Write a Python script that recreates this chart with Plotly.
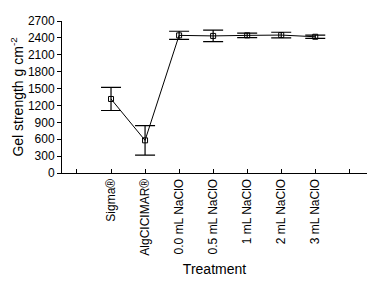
import plotly.graph_objects as go

treatments = ["Sigma®", "AlgCICIMAR®", "0.0 mL NaClO", "0.5 mL NaClO",
              "1 mL NaClO", "2 mL NaClO", "3 mL NaClO"]
gel_strength = [1315, 580, 2445, 2435, 2445, 2450, 2420]
gel_error = [205, 262, 73, 102, 40, 50, 28]
y_ticks = [0, 300, 600, 900, 1200, 1500, 1800, 2100, 2400, 2700]

positions = list(range(1, len(treatments) + 1))
edge_ticks = [0, len(treatments) + 1]

fig = go.Figure()
fig.add_trace(go.Scatter(
    x=positions, y=gel_strength,
    mode="lines+markers",
    line=dict(color="black", width=1),
    marker=dict(symbol="square-open", size=5, color="black", line=dict(width=1)),
    error_y=dict(type="data", array=gel_error, visible=True,
                 color="black", thickness=1.2, width=10),
    showlegend=False,
))

fig.update_layout(
    width=376, height=284,
    margin=dict(l=52, r=17, t=6, b=119),
    paper_bgcolor="white", plot_bgcolor="white",
    font=dict(family="Liberation Sans, Arial, sans-serif", size=12, color="black"),
    xaxis=dict(
        range=[-0.44, 8.52],
        tickmode="array", tickvals=positions, ticktext=treatments,
        tickangle=-90, ticks="inside", ticklen=4, tickcolor="black",
        minor=dict(tickmode="array", tickvals=edge_ticks, ticks="inside",
                   ticklen=4, tickcolor="black", showgrid=False),
        showline=True, linecolor="black", linewidth=1,
        showgrid=False, zeroline=False,
        title=dict(text="Treatment", font=dict(size=14), standoff=9),
    ),
    yaxis=dict(
        range=[0, 2700],
        tickmode="array", tickvals=y_ticks,
        ticks="outside", ticklen=4, tickcolor="black",
        ticklabeloverflow="allow",
        showline=True, linecolor="black", linewidth=1,
        showgrid=False, zeroline=False,
        title=dict(text="Gel strength g cm<sup>-2</sup>", font=dict(size=14), standoff=4),
    ),
)

fig.write_html("out.html")
